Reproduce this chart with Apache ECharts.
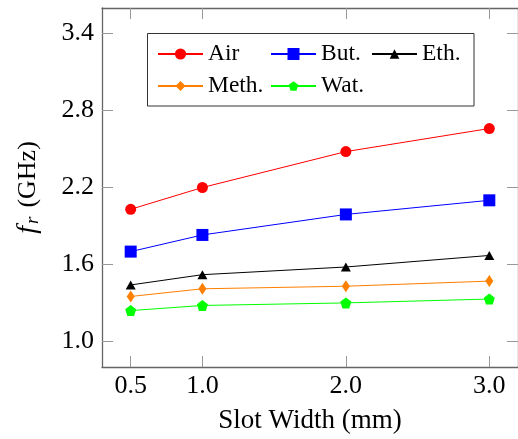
<!DOCTYPE html>
<html>
<head>
<meta charset="utf-8">
<script src="https://cdn.jsdelivr.net/npm/echarts@6/dist/echarts.min.js"></script>
<style>html,body{margin:0;padding:0;background:#fff;}#c{width:518px;height:439px;}</style>
</head>
<body>
<div id="c"></div>
<script>
const slotWidths = [0.5, 1.0, 2.0, 3.0];
const air  = [2.03, 2.20, 2.48, 2.66];
const but  = [1.70, 1.83, 1.99, 2.10];
const eth  = [1.44, 1.52, 1.58, 1.67];
const meth = [1.35, 1.41, 1.43, 1.47];
const wat  = [1.24, 1.28, 1.30, 1.33];
const xTicks = [0.5, 1.0, 2.0, 3.0];
const yTicks = [1.0, 1.6, 2.2, 2.8, 3.4];

const FONT = 'Liberation Serif';
const pentagon = 'path://M0,-1 L0.951,-0.309 L0.588,0.809 L-0.588,0.809 L-0.951,-0.309 Z';

function pairs(ys) { return slotWidths.map((x, i) => [x, ys[i]]); }

const seriesDefs = [
  {name: 'Air',   data: air,  color: '#ff0000', symbol: 'circle',   size: 11},
  {name: 'But.',  data: but,  color: '#0000ff', symbol: 'rect',     size: 12},
  {name: 'Eth.',  data: eth,  color: '#000000', symbol: 'triangle', size: [10, 9]},
  {name: 'Meth.', data: meth, color: '#ff7f00', symbol: 'diamond',  size: [8, 12]},
  {name: 'Wat.',  data: wat,  color: '#00ff00', symbol: pentagon,   size: 11}
];

const legendPos = [
  {name: 'Air',   left: 157, top: 42, h: 14},
  {name: 'But.',  left: 270, top: 42, h: 15},
  {name: 'Eth.',  left: 371, top: 42, h: 12},
  {name: 'Meth.', left: 157, top: 74, h: 12.5},
  {name: 'Wat.',  left: 270, top: 74, h: 12}
];

const axisLineStyle = {color: '#666', width: 1.3};
const tickStyle = {color: '#999', width: 1};

const chart = echarts.init(document.getElementById('c'), null, {renderer: 'canvas'});
chart.setOption({
  animation: false,
  backgroundColor: '#fff',
  textStyle: {fontFamily: FONT},
  grid: {left: 102, top: 8, right: -1, bottom: 72},
  graphic: [{
    type: 'rect', z: 1,
    shape: {x: 147.5, y: 33.5, width: 326.5, height: 72.5},
    style: {fill: '#fff', stroke: '#333', lineWidth: 1}
  }],
  legend: legendPos.map(p => ({
    data: [p.name], left: p.left, top: p.top, padding: 0,
    itemWidth: 45, itemHeight: p.h,
    textStyle: {fontFamily: FONT, fontSize: 23.5, color: '#000'},
    z: 5
  })),
  xAxis: [{
    type: 'value', min: 0.3, max: 3.2, position: 'bottom',
    name: 'Slot Width (mm)', nameLocation: 'middle', nameGap: 40,
    nameTextStyle: {fontFamily: FONT, fontSize: 27, color: '#000'},
    axisLine: {show: true, onZero: false, lineStyle: axisLineStyle},
    axisTick: {show: true, inside: true, length: 11, customValues: xTicks, lineStyle: tickStyle},
    axisLabel: {show: true, customValues: xTicks, margin: 6, fontFamily: FONT, fontSize: 26, color: '#000',
      formatter: v => Number(v).toFixed(1)},
    splitLine: {show: false}
  }, {
    type: 'value', min: 0.3, max: 3.2, position: 'top',
    axisLine: {show: true, onZero: false, lineStyle: axisLineStyle},
    axisTick: {show: true, inside: true, length: 11, customValues: xTicks, lineStyle: tickStyle},
    axisLabel: {show: false},
    splitLine: {show: false}
  }],
  yAxis: [{
    type: 'value', min: 0.8, max: 3.6, position: 'left',
    name: '{i|f}{s|r}{t|(GHz)}', nameLocation: 'middle', nameGap: 60, nameRotate: 90,
    nameTextStyle: {fontFamily: FONT, fontSize: 26, color: '#000',
      rich: {
        i: {fontFamily: FONT, fontSize: 28, fontStyle: 'italic', color: '#000', padding: [0, 2, 0, 0]},
        s: {fontFamily: FONT, fontSize: 19, fontStyle: 'italic', color: '#000', verticalAlign: 'bottom', padding: [9, 9, 0, 0]},
        t: {fontFamily: FONT, fontSize: 26, color: '#000'}
      }},
    axisLine: {show: true, onZero: false, lineStyle: axisLineStyle},
    axisTick: {show: true, inside: true, length: 11, customValues: yTicks, lineStyle: tickStyle},
    axisLabel: {show: true, customValues: yTicks, margin: 8, fontFamily: FONT, fontSize: 26, color: '#000',
      formatter: v => Number(v).toFixed(1)},
    splitLine: {show: false}
  }, {
    type: 'value', min: 0.8, max: 3.6, position: 'right',
    axisLine: {show: true, onZero: false, lineStyle: axisLineStyle},
    axisTick: {show: true, inside: true, length: 11, customValues: yTicks, lineStyle: tickStyle},
    axisLabel: {show: false},
    splitLine: {show: false}
  }],
  series: seriesDefs.map(s => ({
    name: s.name, type: 'line', xAxisIndex: 0, yAxisIndex: 0,
    data: pairs(s.data),
    symbol: s.symbol, symbolSize: s.size, showSymbol: true,
    lineStyle: {color: s.color, width: 1},
    itemStyle: {color: s.color},
    emphasis: {disabled: true}
  }))
});
</script>
</body>
</html>
